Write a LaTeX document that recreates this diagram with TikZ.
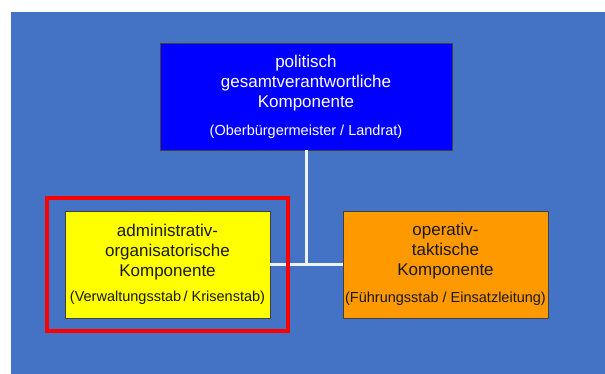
\documentclass[tikz,border=0pt]{standalone}
\usepackage{fontspec}
\setmainfont{Liberation Sans}
\usetikzlibrary{fit}

\definecolor{slidebg}{HTML}{4472C4}
\definecolor{polblue}{HTML}{0000FF}
\definecolor{admyellow}{HTML}{FFFF00}
\definecolor{optorange}{HTML}{FF9900}
\definecolor{linkwhite}{HTML}{EEF2FA}

\newcommand{\paren}[1]{{\fontsize{14.5}{17}\selectfont #1}}

\begin{document}
\begin{tikzpicture}[x=1pt,y=-1pt,semithick,
    font=\fontsize{17}{20}\selectfont]

    \tikzstyle{box}=[draw=black!75,line width=0.8pt,align=center,inner sep=0pt,
        minimum width=205pt,minimum height=107pt]
    \tikzstyle{link}=[draw=linkwhite,line width=3pt]

    \useasboundingbox (0,0) rectangle (605,374);
    \fill[slidebg] (11,12) rectangle (605,374);

    \node[box,fill=polblue,text=white,minimum width=292pt] (pol) at (306,96.5)
        {politisch\\gesamtverantwortliche\\Komponente\\[8pt]\paren{(Oberbürgermeister / Landrat)}};
    \node[box,fill=admyellow,text=black!90] (adm) at (167.5,264.5)
        {administrativ-\\organisatorische\\Komponente\\[5pt]\paren{(Verwaltungsstab\,/ Krisenstab)}};
    \node[box,fill=optorange,text=black!90] (opt) at (445.5,264.5)
        {operativ-\\taktische\\Komponente\\[7pt]\paren{(Führungsstab / Einsatzleitung)}};

    \path[link] (adm) edge (opt)
        (pol.south) edge (pol.south |- adm.east);

    \node[draw=red,line width=4pt,inner xsep=18pt,inner ysep=13pt,fit=(adm)] (mark) {};
\end{tikzpicture}
\end{document}
